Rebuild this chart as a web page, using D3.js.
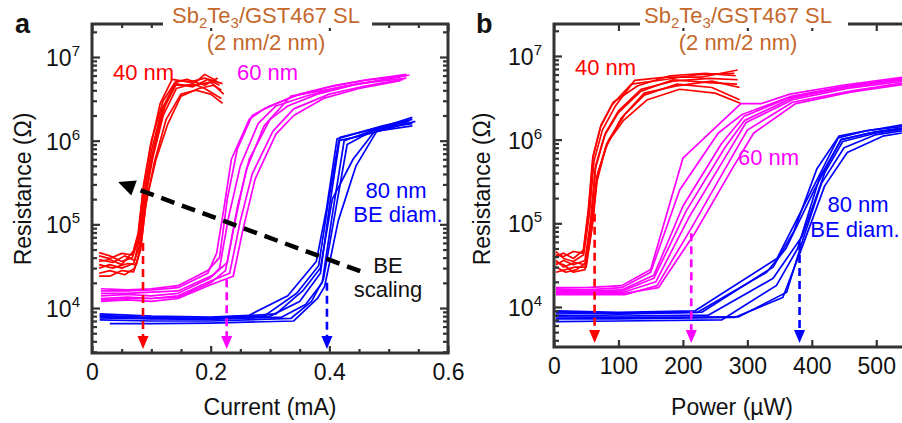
<!DOCTYPE html>
<html>
<head>
<meta charset="utf-8">
<script src="https://cdn.jsdelivr.net/npm/d3@7"></script>
<style>
  html, body { margin: 0; padding: 0; background: #fff; }
  svg { display: block; font-family: Arial, "Liberation Sans", sans-serif; }
</style>
</head>
<body>
<svg id="chart" width="902" height="423"></svg>
<script>
// ---- Data: resistance (ohm) vs programming current (mA), one array of sweeps per BE diameter
const currentRed40 = [
  [[0.012,4.6e4],[0.03,4.2e4],[0.05,3.6e4],[0.068,4.0e4],[0.078,6.5e4],[0.087,2.2e5],[0.1,7.5e5],[0.118,2.4e6],[0.14,4.8e6],[0.17,4.4e6],[0.195,5.4e6],[0.215,4.6e6]],
  [[0.012,3.0e4],[0.03,3.3e4],[0.05,3.0e4],[0.07,3.4e4],[0.08,5.5e4],[0.088,1.8e5],[0.103,6.5e5],[0.12,2.0e6],[0.142,4.2e6],[0.17,4.8e6],[0.19,4.2e6],[0.218,3.2e6]],
  [[0.012,3.8e4],[0.035,3.5e4],[0.055,4.2e4],[0.072,3.7e4],[0.08,7.0e4],[0.09,2.6e5],[0.105,8.5e5],[0.123,2.6e6],[0.145,5.2e6],[0.175,5.0e6],[0.19,6.2e6],[0.21,5.2e6]],
  [[0.012,2.6e4],[0.03,2.8e4],[0.055,2.5e4],[0.072,3.0e4],[0.082,5.0e4],[0.09,1.6e5],[0.105,5.5e5],[0.125,1.8e6],[0.15,3.6e6],[0.175,4.0e6],[0.2,3.6e6],[0.22,2.8e6]],
  [[0.012,4.2e4],[0.03,3.9e4],[0.05,4.5e4],[0.068,4.3e4],[0.078,7.5e4],[0.086,2.5e5],[0.098,8.0e5],[0.115,2.8e6],[0.135,5.4e6],[0.165,5.0e6],[0.19,5.6e6],[0.22,4.8e6]],
  [[0.012,3.3e4],[0.035,3.0e4],[0.06,3.4e4],[0.075,3.3e4],[0.083,6.0e4],[0.092,2.0e5],[0.108,6.0e5],[0.128,1.6e6],[0.15,3.4e6],[0.18,4.2e6],[0.205,4.6e6],[0.218,4.0e6]],
  [[0.012,2.4e4],[0.03,2.4e4],[0.05,2.8e4],[0.07,2.7e4],[0.08,4.5e4],[0.088,1.5e5],[0.1,6.0e5],[0.118,2.2e6],[0.14,4.6e6],[0.17,4.6e6],[0.2,5.0e6],[0.222,3.6e6]],
  [[0.012,3.6e4],[0.03,3.8e4],[0.05,3.3e4],[0.07,4.8e4],[0.078,8.0e4],[0.087,3.0e5],[0.1,1.0e6],[0.12,3.0e6],[0.14,5.0e6],[0.16,5.4e6],[0.19,4.6e6],[0.212,5.6e6]]
];
const currentMag60 = [
  [[0.015,1.6e4],[0.06,1.6e4],[0.1,1.65e4],[0.145,1.75e4],[0.195,2.6e4],[0.21,4.5e4],[0.222,1.5e5],[0.235,6.0e5],[0.265,1.8e6],[0.29,2.4e6],[0.34,3.4e6],[0.4,4.4e6],[0.46,5.3e6],[0.53,6.0e6]],
  [[0.015,1.4e4],[0.06,1.45e4],[0.1,1.4e4],[0.145,1.5e4],[0.2,2.3e4],[0.215,3.0e4],[0.23,1.2e5],[0.25,5.0e5],[0.28,1.6e6],[0.31,2.6e6],[0.36,3.4e6],[0.42,4.4e6],[0.48,5.2e6],[0.52,5.8e6]],
  [[0.015,1.25e4],[0.06,1.3e4],[0.1,1.3e4],[0.145,1.35e4],[0.2,2.0e4],[0.225,2.8e4],[0.24,1.0e5],[0.26,4.5e5],[0.29,1.5e6],[0.335,3.4e6],[0.39,4.0e6],[0.45,4.8e6],[0.53,5.6e6]],
  [[0.015,1.5e4],[0.06,1.5e4],[0.1,1.55e4],[0.145,1.6e4],[0.205,2.5e4],[0.228,3.5e4],[0.245,1.6e5],[0.265,6.0e5],[0.3,1.8e6],[0.33,2.6e6],[0.38,3.6e6],[0.44,4.6e6],[0.5,5.5e6],[0.535,6.1e6]],
  [[0.015,1.3e4],[0.06,1.35e4],[0.1,1.3e4],[0.145,1.4e4],[0.2,2.1e4],[0.232,2.6e4],[0.25,1.1e5],[0.27,4.0e5],[0.305,1.3e6],[0.34,2.4e6],[0.4,3.6e6],[0.46,4.5e6],[0.525,5.4e6]],
  [[0.015,1.7e4],[0.06,1.65e4],[0.1,1.7e4],[0.145,1.85e4],[0.195,2.8e4],[0.215,4.0e4],[0.228,2.0e5],[0.245,8.0e5],[0.27,2.0e6],[0.3,2.6e6],[0.35,3.6e6],[0.41,4.6e6],[0.47,5.4e6],[0.53,6.2e6]],
  [[0.015,1.2e4],[0.06,1.25e4],[0.1,1.2e4],[0.145,1.3e4],[0.2,1.9e4],[0.238,2.4e4],[0.255,9.0e4],[0.275,3.5e5],[0.31,1.2e6],[0.34,2.0e6],[0.39,3.2e6],[0.45,4.2e6],[0.52,5.2e6]]
];
const currentBlue80 = [
  [[0.013,8.5e3],[0.1,8.0e3],[0.2,7.8e3],[0.265,8.2e3],[0.33,1.4e4],[0.378,3.6e4],[0.395,1.5e5],[0.413,1.05e6],[0.45,1.25e6],[0.49,1.5e6],[0.54,1.8e6]],
  [[0.013,8.0e3],[0.1,7.6e3],[0.2,7.5e3],[0.3,8.0e3],[0.35,1.2e4],[0.385,2.6e4],[0.4,1.6e5],[0.418,1.1e6],[0.46,1.3e6],[0.5,1.55e6],[0.54,1.9e6]],
  [[0.013,7.6e3],[0.1,7.4e3],[0.2,7.3e3],[0.32,7.8e3],[0.36,1.1e4],[0.388,2.0e4],[0.405,1.3e5],[0.425,1.0e6],[0.47,1.3e6],[0.53,1.6e6]],
  [[0.013,7.2e3],[0.1,7.0e3],[0.2,7.0e3],[0.335,7.5e3],[0.37,1.2e4],[0.39,2.2e4],[0.41,1.4e5],[0.43,9.0e5],[0.48,1.4e6],[0.54,1.6e6]],
  [[0.013,7.8e3],[0.1,7.5e3],[0.2,7.6e3],[0.31,8.5e3],[0.355,1.6e4],[0.385,3.0e4],[0.405,2.0e5],[0.44,6.0e5],[0.48,1.4e6],[0.535,1.7e6]],
  [[0.03,6.5e3],[0.1,6.5e3],[0.2,6.6e3],[0.34,7.0e3],[0.38,1.3e4],[0.392,1.8e4],[0.415,1.1e5],[0.445,5.0e5],[0.48,1.3e6],[0.54,1.5e6]],
  [[0.013,8.2e3],[0.1,7.7e3],[0.2,7.4e3],[0.29,8.0e3],[0.345,1.5e4],[0.382,3.2e4],[0.398,1.8e5],[0.416,1.0e6],[0.455,1.15e6],[0.5,1.4e6],[0.545,1.7e6]]
];

// ---- Data: resistance (ohm) vs programming power (uW)
const powerRed40 = [
  [[3,4.6e4],[15,3.8e4],[30,3.5e4],[46,4.2e4],[55,1.3e5],[62,5.5e5],[75,1.3e6],[95,2.5e6],[125,5.1e6],[175,5.6e6],[230,5.6e6],[285,6.8e6]],
  [[3,3.2e4],[15,3.6e4],[30,3.2e4],[48,3.6e4],[57,1.1e5],[64,4.5e5],[80,1.2e6],[100,2.2e6],[135,4.0e6],[185,5.0e6],[240,5.4e6],[285,5.2e6]],
  [[3,2.6e4],[18,2.8e4],[32,3.0e4],[50,3.0e4],[60,1.0e5],[68,4.0e5],[85,1.0e6],[110,2.0e6],[140,3.4e6],[190,4.6e6],[245,4.2e6],[288,3.0e6]],
  [[3,4.0e4],[15,4.4e4],[30,3.8e4],[46,4.8e4],[54,1.5e5],[61,6.5e5],[73,1.5e6],[92,2.8e6],[130,4.4e6],[180,5.8e6],[235,6.2e6],[282,5.8e6]],
  [[3,3.6e4],[15,3.0e4],[32,3.4e4],[48,3.2e4],[58,9.0e4],[66,3.5e5],[82,9.0e5],[108,1.7e6],[145,3.0e6],[195,4.0e6],[250,3.6e6],[290,2.7e6]],
  [[3,3.0e4],[18,2.6e4],[35,2.8e4],[50,3.4e4],[58,1.2e5],[65,5.0e5],[78,1.1e6],[100,2.1e6],[135,3.8e6],[185,5.2e6],[240,4.8e6],[284,4.6e6]],
  [[3,4.2e4],[15,4.0e4],[30,4.6e4],[45,4.4e4],[53,1.4e5],[60,6.0e5],[72,1.4e6],[90,2.6e6],[120,4.6e6],[170,5.2e6],[225,6.0e6],[280,6.2e6]],
  [[3,3.4e4],[15,3.2e4],[30,2.6e4],[48,2.8e4],[58,8.0e4],[66,3.0e5],[80,8.0e5],[104,1.8e6],[140,3.6e6],[190,4.4e6],[245,5.0e6],[288,4.2e6]]
];
const powerMag60 = [
  [[3,1.7e4],[50,1.7e4],[105,1.8e4],[150,2.8e4],[200,6.0e5],[290,2.7e6],[322,2.7e6],[366,3.5e6],[450,4.5e6],[560,5.8e6]],
  [[3,1.6e4],[50,1.55e4],[105,1.6e4],[155,2.4e4],[200,1.6e5],[260,9.0e5],[295,1.9e6],[366,3.2e6],[450,4.2e6],[560,5.5e6]],
  [[3,1.5e4],[50,1.5e4],[108,1.5e4],[158,2.0e4],[210,1.2e5],[270,7.0e5],[298,1.6e6],[370,3.0e6],[455,4.1e6],[560,5.2e6]],
  [[3,1.4e4],[50,1.4e4],[110,1.4e4],[160,1.8e4],[214,9.0e4],[275,6.0e5],[300,1.3e6],[370,2.8e6],[460,3.8e6],[560,5.0e6]],
  [[3,1.65e4],[50,1.6e4],[105,1.7e4],[150,2.6e4],[195,2.5e5],[255,1.2e6],[292,2.0e6],[368,3.3e6],[455,4.4e6],[560,5.6e6]],
  [[3,1.45e4],[50,1.45e4],[108,1.45e4],[162,1.7e4],[218,7.5e4],[280,5.0e5],[310,1.2e6],[375,2.7e6],[460,3.7e6],[560,4.8e6]],
  [[3,1.55e4],[50,1.5e4],[106,1.55e4],[155,2.2e4],[205,1.4e5],[265,8.0e5],[296,1.7e6],[368,3.1e6],[455,4.3e6],[560,5.4e6]]
];
const powerBlue80 = [
  [[3,9.0e3],[100,8.6e3],[219,9.0e3],[346,3.8e4],[400,2.5e5],[441,1.05e6],[480,1.25e6],[540,1.5e6],[580,1.6e6]],
  [[3,8.5e3],[100,8.2e3],[222,8.6e3],[330,2.6e4],[360,5.0e4],[405,2.6e5],[445,1.0e6],[490,1.2e6],[580,1.5e6]],
  [[3,8.0e3],[100,7.8e3],[240,8.0e3],[340,2.2e4],[385,7.0e4],[420,4.0e5],[448,9.5e5],[500,1.2e6],[580,1.45e6]],
  [[3,7.6e3],[100,7.5e3],[286,7.6e3],[361,1.5e4],[385,6.0e4],[415,3.0e5],[450,8.0e5],[500,1.15e6],[580,1.4e6]],
  [[3,7.2e3],[100,7.2e3],[280,7.5e3],[355,1.3e4],[382,4.5e4],[420,2.8e5],[455,7.0e5],[510,1.1e6],[580,1.35e6]],
  [[3,6.7e3],[100,6.8e3],[260,7.0e3],[345,1.8e4],[378,5.0e4],[412,3.5e5],[446,1.0e6],[500,1.25e6],[580,1.5e6]],
  [[3,8.8e3],[100,8.4e3],[230,8.7e3],[340,3.0e4],[372,8.0e4],[408,4.5e5],[442,1.1e6],[490,1.3e6],[580,1.55e6]]
];

// ---- Threshold markers (dashed arrows): x position and resistance where the dash starts
const currentArrowX = [0.086, 0.227, 0.396];
const currentArrowTop = [6.0e4, 2.2e4, 2.0e4];
const powerArrowX = [63, 213, 381];
const powerArrowTop = [1.3e5, 7.6e4, 6.0e4];

// ---- "BE scaling" trend arrow (current panel): tail and head as [mA, ohm]
const scalingArrow = [[0.452, 2.76e4], [0.044, 3.2e5]];

// ---- Axis ticks
const currentTicks = [0, 0.2, 0.4, 0.6];
const currentMinorTicks = [0.05, 0.1, 0.15, 0.25, 0.3, 0.35, 0.45, 0.5, 0.55];
const powerTicks = [0, 100, 200, 300, 400, 500];
const resistanceTicks = [1e4, 1e5, 1e6, 1e7];
const resistanceExponents = ["4", "5", "6", "7"];

const seriesColors = ["#ff0000", "#ff00ff", "#0000ff"];
const frameColor = "#333333";
const titleColor = "#c4682c";

const svg = d3.select("#chart");

function minorLogTicks(domain) {
  const out = [];
  for (let e = 3; e <= 7; e++) {
    for (let m = 2; m <= 9; m++) {
      const v = m * Math.pow(10, e);
      if (v > domain[0] && v < domain[1]) out.push(v);
    }
  }
  return out;
}

function drawPanel(cfg) {
  const { id, x, y, groups, arrowX, arrowTop, left, right, top, bottom } = cfg;
  const g = svg.append("g");

  svg.append("clipPath").attr("id", "clip-" + id)
    .append("rect").attr("x", left).attr("y", top)
    .attr("width", right - left).attr("height", bottom - top);

  const plot = g.append("g").attr("clip-path", `url(#clip-${id})`);
  const line = d3.line().x(d => x(d[0])).y(d => y(d[1]));

  groups.forEach((curves, gi) => {
    plot.append("g").selectAll("path").data(curves).join("path")
      .attr("d", line)
      .attr("fill", "none")
      .attr("stroke", seriesColors[gi])
      .attr("stroke-width", 1.7)
      .attr("stroke-linejoin", "round");
  });

  // dashed threshold arrows down to the axis
  arrowX.forEach((v, i) => {
    const px = x(v), y0 = y(arrowTop[i]), tip = bottom - 4, head = 13;
    plot.append("line")
      .attr("x1", px).attr("x2", px).attr("y1", y0).attr("y2", tip - head + 1)
      .attr("stroke", seriesColors[i]).attr("stroke-width", 2.6)
      .attr("stroke-dasharray", "8,5");
    plot.append("path")
      .attr("d", `M${px - 5.5},${tip - head} L${px + 5.5},${tip - head} L${px},${tip} Z`)
      .attr("fill", seriesColors[i]);
  });

  // frame
  g.append("rect").attr("x", left).attr("y", top)
    .attr("width", right - left).attr("height", bottom - top)
    .attr("fill", "none").attr("stroke", frameColor).attr("stroke-width", 3);

  const styleAxis = sel => {
    sel.select(".domain").remove();
    sel.selectAll(".tick line").attr("stroke", frameColor).attr("stroke-width", 2.2);
    sel.selectAll("text").attr("fill", "#111").style("font-size", "23px")
      .style("font-family", "Arial, 'Liberation Sans', sans-serif");
  };

  // x axes
  g.append("g").attr("transform", `translate(0,${bottom})`)
    .call(d3.axisBottom(x).tickValues(cfg.xTicks).tickSize(-7).tickPadding(11)
      .tickFormat(cfg.xFormat)).call(styleAxis);
  g.append("g").attr("transform", `translate(0,${top})`)
    .call(d3.axisTop(x).tickValues(cfg.xTicks).tickSize(-7).tickFormat("")).call(styleAxis);
  if (cfg.xMinor) {
    g.append("g").attr("transform", `translate(0,${bottom})`)
      .call(d3.axisBottom(x).tickValues(cfg.xMinor).tickSize(-4).tickFormat("")).call(styleAxis);
    g.append("g").attr("transform", `translate(0,${top})`)
      .call(d3.axisTop(x).tickValues(cfg.xMinor).tickSize(-4).tickFormat("")).call(styleAxis);
  }

  // y axes (log)
  const yMinor = minorLogTicks(y.domain());
  const yl = g.append("g").attr("transform", `translate(${left},0)`)
    .call(d3.axisLeft(y).tickValues(resistanceTicks).tickSize(-8).tickPadding(12)
      .tickFormat("")).call(styleAxis);
  yl.selectAll(".tick").each(function (d, i) {
    const t = d3.select(this).append("text")
      .attr("x", -12).attr("y", 8.5)
      .attr("text-anchor", "end")
      .attr("fill", "#111")
      .style("font-size", "23px");
    t.append("tspan").text("10");
    t.append("tspan").attr("dy", -10).style("font-size", "15px")
      .text(resistanceExponents[i]);
  });
  g.append("g").attr("transform", `translate(${left},0)`)
    .call(d3.axisLeft(y).tickValues(yMinor).tickSize(-5).tickFormat("")).call(styleAxis);
  g.append("g").attr("transform", `translate(${right},0)`)
    .call(d3.axisRight(y).tickValues(resistanceTicks).tickSize(-8).tickFormat("")).call(styleAxis);
  g.append("g").attr("transform", `translate(${right},0)`)
    .call(d3.axisRight(y).tickValues(yMinor).tickSize(-5).tickFormat("")).call(styleAxis);

  // title breaking the top border
  g.append("rect").attr("x", cfg.gap[0]).attr("y", top - 4)
    .attr("width", cfg.gap[1] - cfg.gap[0]).attr("height", 8).attr("fill", "#fff");
  const title = g.append("text").attr("x", cfg.titleX).attr("y", 23)
    .attr("text-anchor", "middle").attr("fill", titleColor).style("font-size", "22px");
  title.append("tspan").text("Sb");
  title.append("tspan").attr("dy", 5).style("font-size", "15px").text("2");
  title.append("tspan").attr("dy", -5).text("Te");
  title.append("tspan").attr("dy", 5).style("font-size", "15px").text("3");
  title.append("tspan").attr("dy", -5).text("/GST467 SL");
  g.append("text").attr("x", cfg.titleX).attr("y", 50)
    .attr("text-anchor", "middle").attr("fill", titleColor).style("font-size", "22px")
    .text("(2 nm/2 nm)");

  // panel letter
  g.append("text").attr("x", cfg.letterX).attr("y", 33)
    .style("font-size", "27px").style("font-weight", "bold").attr("fill", "#111")
    .text(cfg.letter);

  // axis titles
  g.append("text").attr("x", cfg.xTitleX).attr("y", 415)
    .attr("text-anchor", "middle").style("font-size", "23px").attr("fill", "#111")
    .text(cfg.xTitle);
  g.append("text")
    .attr("transform", `translate(${cfg.yTitleX},189) rotate(-90)`)
    .attr("text-anchor", "middle").attr("dominant-baseline", "central")
    .style("font-size", "23px").attr("fill", "#111")
    .text("Resistance (\u03a9)");

  // group labels
  cfg.labels.forEach(l => {
    g.append("text").attr("x", l.x).attr("y", l.y)
      .attr("text-anchor", l.anchor || "start")
      .attr("fill", l.color).style("font-size", "22px").text(l.text);
  });

  return g;
}

// ---- Panel a: current
const xA = d3.scaleLinear().domain([0, 0.6]).range([92, 448]);
const yA = d3.scaleLog().domain([2900, 2.48e7]).range([353, 24]);
const panelA = drawPanel({
  id: "a", x: xA, y: yA, left: 92, right: 448, top: 24, bottom: 353,
  groups: [currentRed40, currentMag60, currentBlue80],
  arrowX: currentArrowX, arrowTop: currentArrowTop,
  xTicks: currentTicks, xMinor: currentMinorTicks, xFormat: d => String(d),
  gap: [163, 372], titleX: 266, letter: "a", letterX: 15,
  xTitle: "Current (mA)", xTitleX: 270, yTitleX: 23,
  labels: [
    { x: 113, y: 80, text: "40 nm", color: seriesColors[0] },
    { x: 237, y: 80, text: "60 nm", color: seriesColors[1] },
    { x: 396, y: 198, text: "80 nm", color: seriesColors[2], anchor: "middle" },
    { x: 398, y: 222, text: "BE diam.", color: seriesColors[2], anchor: "middle" },
    { x: 388, y: 273, text: "BE", color: "#111", anchor: "middle" },
    { x: 388, y: 297, text: "scaling", color: "#111", anchor: "middle" }
  ]
});

// BE scaling trend arrow
{
  const [p0, p1] = scalingArrow.map(d => [xA(d[0]), yA(d[1])]);
  const ang = Math.atan2(p1[1] - p0[1], p1[0] - p0[0]);
  const headLen = 17, headW = 8;
  const bx = p1[0] - headLen * Math.cos(ang), by = p1[1] - headLen * Math.sin(ang);
  panelA.append("line")
    .attr("x1", p0[0]).attr("y1", p0[1]).attr("x2", bx).attr("y2", by)
    .attr("stroke", "#000").attr("stroke-width", 4.5).attr("stroke-dasharray", "14,8");
  const nx = -Math.sin(ang), ny = Math.cos(ang);
  panelA.append("path")
    .attr("d", `M${p1[0]},${p1[1]} L${bx + nx * headW},${by + ny * headW} L${bx - nx * headW},${by - ny * headW} Z`)
    .attr("fill", "#000");
}

// ---- Panel b: power
const xB = d3.scaleLinear().domain([0, 580]).range([554, 927.8]);
const yB = d3.scaleLog().domain([3325, 2.41e7]).range([347, 24]);
drawPanel({
  id: "b", x: xB, y: yB, left: 554, right: 927.8, top: 24, bottom: 347,
  groups: [powerRed40, powerMag60, powerBlue80],
  arrowX: powerArrowX, arrowTop: powerArrowTop,
  xTicks: powerTicks, xMinor: null, xFormat: d => String(d),
  gap: [640, 848], titleX: 738, letter: "b", letterX: 476,
  xTitle: "Power (\u00b5W)", xTitleX: 732, yTitleX: 482,
  labels: [
    { x: 575, y: 75, text: "40 nm", color: seriesColors[0] },
    { x: 738, y: 165, text: "60 nm", color: seriesColors[1] },
    { x: 858, y: 212, text: "80 nm", color: seriesColors[2], anchor: "middle" },
    { x: 855, y: 237, text: "BE diam.", color: seriesColors[2], anchor: "middle" }
  ]
});
</script>
</body>
</html>
